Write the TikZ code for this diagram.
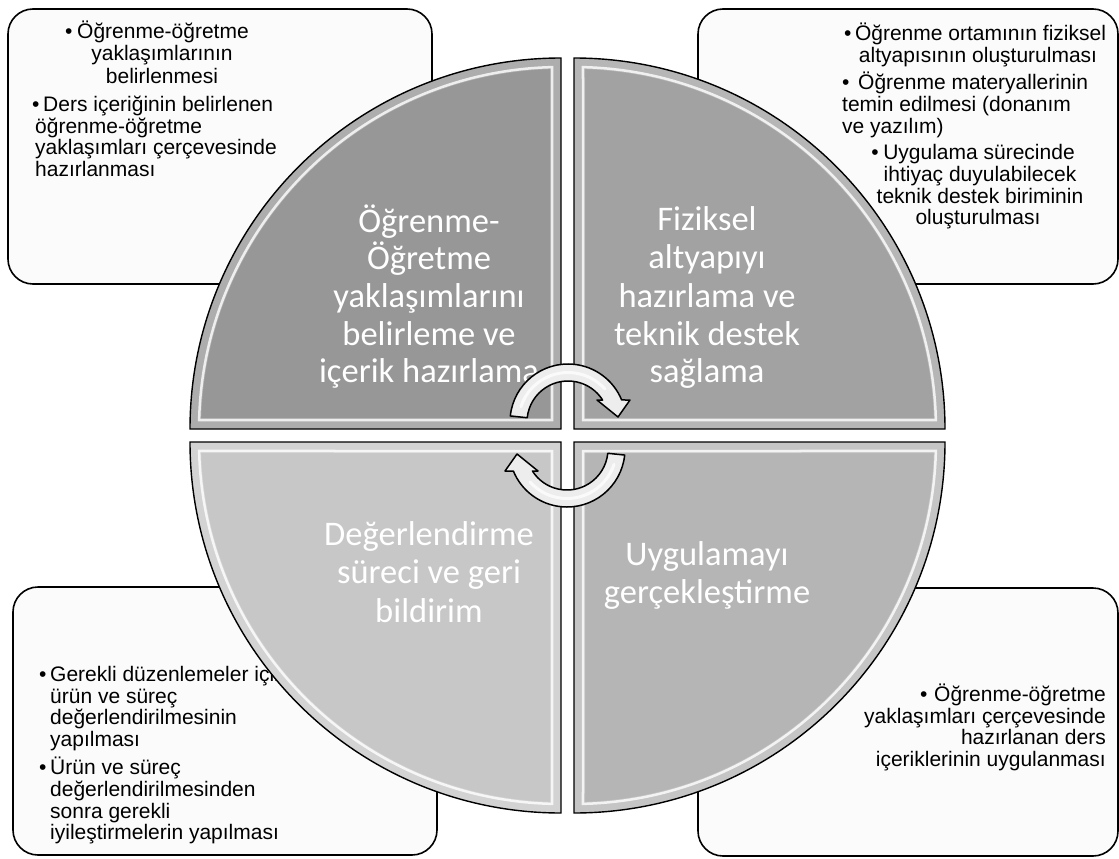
\documentclass[tikz,border=0pt]{standalone}
\usepackage{fontspec}
\setmainfont{Liberation Sans}
\newfontfamily\calib{Carlito}
\definecolor{qTL}{HTML}{979797}
\definecolor{qTR}{HTML}{A2A2A2}
\definecolor{qBL}{HTML}{C7C7C7}
\definecolor{qBR}{HTML}{B5B5B5}
\definecolor{boxfill}{HTML}{FBFBFB}
\tikzset{
  cbox/.style={draw=black, line width=1.6pt, rounded corners=25pt, fill=boxfill, inner sep=0pt},
  btxt/.style={inner sep=0pt, font=\fontsize{21}{21.5}\selectfont, text=black},
  qtxt/.style={inner sep=0pt, font=\calib\fontsize{34.5}{38}\selectfont, text=white},
  qedge/.style={draw=black, line width=1.4pt, line join=miter},
  arrowshape/.style={draw=black, line width=1.5pt, fill=gray!14, line join=round},
  arrowshine/.style={white, line width=3pt, opacity=0.75, line cap=round},
}
\newcommand\bul[1]{\makebox[#1][l]{•}}
\newcommand\quadrant[4]{%
  \begin{scope}
    \clip (#1,#2) -- ([shift={(#3:371)}]#1,#2) arc[start angle=#3, delta angle=90, radius=371] -- cycle;
    \fill[#4] (#1,#2) -- ([shift={(#3:371)}]#1,#2) arc[start angle=#3, delta angle=90, radius=371] -- cycle;
    \draw[white, opacity=0.22, line width=22pt] (#1,#2) -- ([shift={(#3:371)}]#1,#2) arc[start angle=#3, delta angle=90, radius=371] -- cycle;
    \draw[white, opacity=0.8, line width=2.5pt] ([shift={({#3+45}:12.728)}]#1,#2) -- ([shift={({#3+1.425}:362)}]#1,#2) arc[start angle={#3+1.425}, delta angle=87.15, radius=362] -- cycle;
  \end{scope}
  \draw[qedge] (#1,#2) -- ([shift={(#3:371)}]#1,#2) arc[start angle=#3, delta angle=90, radius=371] -- cycle;
}
\newcommand\cyclearrow{%
  \draw[arrowshape] (568,422) ++(186:58) arc[start angle=186, end angle=337.7, radius=58]
    -- (630,400) -- (618,417) -- (597,400) -- (602.6,400)
    arc[start angle=327.55, end angle=186, radius=41] -- cycle;
  \draw[arrowshine] (568,422) ++(198:49.5) arc[start angle=198, end angle=318, radius=49.5];
}
\begin{document}
\begin{tikzpicture}[x=1pt,y=-1pt]
\useasboundingbox (0,0) rectangle (1119,859);

% corner boxes
\node[cbox, minimum width=424pt, minimum height=275pt] (boxTL) at (220,146.5) {};
\node[cbox, minimum width=420pt, minimum height=275pt] (boxTR) at (908,146.5) {};
\node[cbox, minimum width=424pt, minimum height=268pt] (boxBL) at (225,721) {};
\node[cbox, minimum width=420pt, minimum height=268pt] (boxBR) at (908,722) {};

% top-left box text
\node[btxt, anchor=base] (tl1) at (157,39) {\bul{12pt}Öğrenme-öğretme};
\node[btxt, anchor=base] (tl2) at (162,61) {yaklaşımlarının};
\node[btxt, anchor=base] (tl3) at (162,83) {belirlenmesi};
\node[btxt, anchor=base west] (tl4) at (32,111) {\bul{11pt}Ders içeriğinin belirlenen};
\node[btxt, anchor=base west] (tl5) at (35,133) {öğrenme-öğretme};
\node[btxt, anchor=base west] (tl6) at (35,154) {yaklaşımları çerçevesinde};
\node[btxt, anchor=base west] (tl7) at (35,176) {hazırlanması};

% top-right box text
\node[btxt, anchor=base] (tr1) at (975,41) {\bul{11pt}Öğrenme ortamının fiziksel};
\node[btxt, anchor=base] (tr2) at (978,63) {altyapısının oluşturulması};
\node[btxt, anchor=base west] (tr3) at (842,89) {\bul{16pt}Öğrenme materyallerinin};
\node[btxt, anchor=base west] (tr4) at (842,111) {temin edilmesi (donanım};
\node[btxt, anchor=base west] (tr5) at (842,133) {ve yazılım)};
\node[btxt, anchor=base] (tr6) at (973,159) {\bul{12pt}Uygulama sürecinde};
\node[btxt, anchor=base] (tr7) at (980,181) {ihtiyaç duyulabilecek};
\node[btxt, anchor=base] (tr8) at (980,203) {teknik destek biriminin};
\node[btxt, anchor=base] (tr9) at (978,224) {oluşturulması};

% bottom-left box text
\node[btxt, anchor=base west] (bl1) at (39,681) {\bul{11pt}Gerekli düzenlemeler için};
\node[btxt, anchor=base west] (bl2) at (50,703) {ürün ve süreç};
\node[btxt, anchor=base west] (bl3) at (50,724) {değerlendirilmesinin};
\node[btxt, anchor=base west] (bl4) at (50,746) {yapılması};
\node[btxt, anchor=base west] (bl5) at (39,774) {\bul{11pt}Ürün ve süreç};
\node[btxt, anchor=base west] (bl6) at (50,796) {değerlendirilmesinden};
\node[btxt, anchor=base west] (bl7) at (50,818) {sonra gerekli};
\node[btxt, anchor=base west] (bl8) at (50,839) {iyileştirmelerin yapılması};

% bottom-right box text
\node[btxt, anchor=base east] (br1) at (1106,701) {\bul{14pt}Öğrenme-öğretme};
\node[btxt, anchor=base east] (br2) at (1106,723) {yaklaşımları çerçevesinde};
\node[btxt, anchor=base east] (br3) at (1106,744) {hazırlanan ders};
\node[btxt, anchor=base east] (br4) at (1106,766) {içeriklerinin uygulanması};

% circle quadrants
\quadrant{561}{429}{180}{qTL}
\quadrant{574}{429}{270}{qTR}
\quadrant{574}{442}{0}{qBR}
\quadrant{561}{442}{90}{qBL}

% quadrant texts
\node[qtxt, anchor=base] (q1a) at (429,232) {Öğrenme-};
\node[qtxt, anchor=base] (q1b) at (429,269) {Öğretme};
\node[qtxt, anchor=base] (q1c) at (429,307) {yaklaşımlarını};
\node[qtxt, anchor=base] (q1d) at (429,345) {belirleme ve};
\node[qtxt, anchor=base] (q1e) at (429,382) {içerik hazırlama};

\node[qtxt, anchor=base] (q2a) at (707,230) {Fiziksel};
\node[qtxt, anchor=base] (q2b) at (707,268) {altyapıyı};
\node[qtxt, anchor=base] (q2c) at (707,307) {hazırlama ve};
\node[qtxt, anchor=base] (q2d) at (707,345) {teknik destek};
\node[qtxt, anchor=base] (q2e) at (707,382) {sağlama};

\node[qtxt, anchor=base] (q3a) at (429,545) {Değerlendirme};
\node[qtxt, anchor=base] (q3b) at (429,583) {süreci ve geri};
\node[qtxt, anchor=base] (q3c) at (429,622) {bildirim};

\node[qtxt, anchor=base] (q4a) at (707,565) {Uygulamayı};
\node[qtxt, anchor=base] (q4b) at (707,603) {gerçekleştirme};

% circular arrows
\cyclearrow
\begin{scope}[rotate around={180:(567.5,435.5)}]
  \cyclearrow
\end{scope}
\end{tikzpicture}
\end{document}
